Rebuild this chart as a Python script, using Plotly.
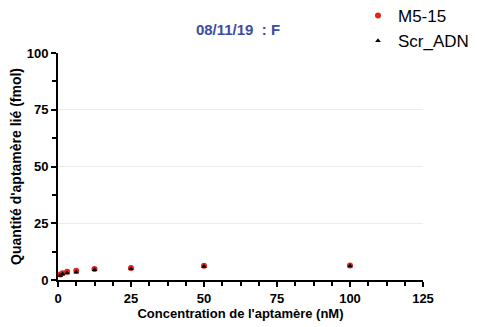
import plotly.graph_objects as go

conc = [0.78, 1.56, 3.125, 6.25, 12.5, 25, 50, 100]
m5_15 = [2.4, 3.0, 3.6, 4.1, 4.8, 5.3, 6.3, 6.4]
scr_adn = [2.0, 2.6, 3.1, 3.4, 4.5, 5.0, 6.0, 6.2]

x_ticks = [0, 25, 50, 75, 100, 125]
y_ticks = [0, 25, 50, 75, 100]

font_family = "Liberation Sans, Arial, Helvetica, sans-serif"

# page body has an 8px margin, so the figure is drawn 8px smaller and shifted
W, H = 469, 319
ML, MT, PW, PH = 50, 45, 365, 227

fig = go.Figure()
fig.add_trace(go.Scatter(x=conc, y=m5_15, mode="markers", name="M5-15",
                         marker=dict(symbol="circle", size=6, color="#e8211b")))
fig.add_trace(go.Scatter(x=conc, y=scr_adn, mode="markers", name="Scr_ADN",
                         marker=dict(symbol="triangle-up", size=5, color="black")))

fig.update_layout(
    width=W, height=H,
    margin=dict(l=ML, r=W - ML - PW, t=MT, b=H - MT - PH, autoexpand=False),
    paper_bgcolor="white", plot_bgcolor="white",
    font=dict(family=font_family, color="black"),
    title=dict(text="<b>08/11/19\u00a0\u00a0: F</b>", x=230 / W, xanchor="center",
               xref="container", y=1 - 21.5 / H, yref="container", yanchor="middle",
               font=dict(size=15, color="#3d4c9e", family=font_family)),
    legend=dict(x=(350 - ML) / PW, y=1 + (MT + 10) / PH, xref="paper", yref="paper",
                xanchor="left", yanchor="top",
                font=dict(size=17, color="black"),
                tracegroupgap=0, bgcolor="rgba(0,0,0,0)"),
    showlegend=True,
)
fig.update_xaxes(
    range=[x_ticks[0], x_ticks[-1]], tickmode="linear", tick0=x_ticks[0],
    dtick=x_ticks[1] - x_ticks[0],
    showline=True, linecolor="black", linewidth=2, ticks="outside", ticklen=5,
    tickwidth=2, tickcolor="black", showgrid=False, zeroline=False,
    tickfont=dict(size=13, family=font_family, color="black", weight="bold"),
    title=dict(text="<b>Concentration de l'aptamère (nM)</b>", font=dict(size=13), standoff=4),
    minor=dict(dtick=(x_ticks[1] - x_ticks[0]) / 4, tick0=0, ticks="outside", ticklen=4,
               tickwidth=2, tickcolor="black", showgrid=False),
)
fig.update_yaxes(
    range=[y_ticks[0], y_ticks[-1]], tickmode="linear", tick0=y_ticks[0],
    dtick=y_ticks[1] - y_ticks[0],
    showline=True, linecolor="black", linewidth=2, ticks="outside", ticklen=5,
    tickwidth=2, tickcolor="black", showgrid=True, gridcolor="#ececec", gridwidth=1,
    zeroline=False,
    tickfont=dict(size=13, family=font_family, color="black", weight="bold"),
    title=dict(text="<b>Quantité d'aptamère lié (fmol)</b>", font=dict(size=14), standoff=4),
    minor=dict(dtick=(y_ticks[1] - y_ticks[0]) / 2, tick0=0, ticks="outside", ticklen=4,
               tickwidth=2, tickcolor="black", showgrid=False),
)

fig.write_html("out.html")
